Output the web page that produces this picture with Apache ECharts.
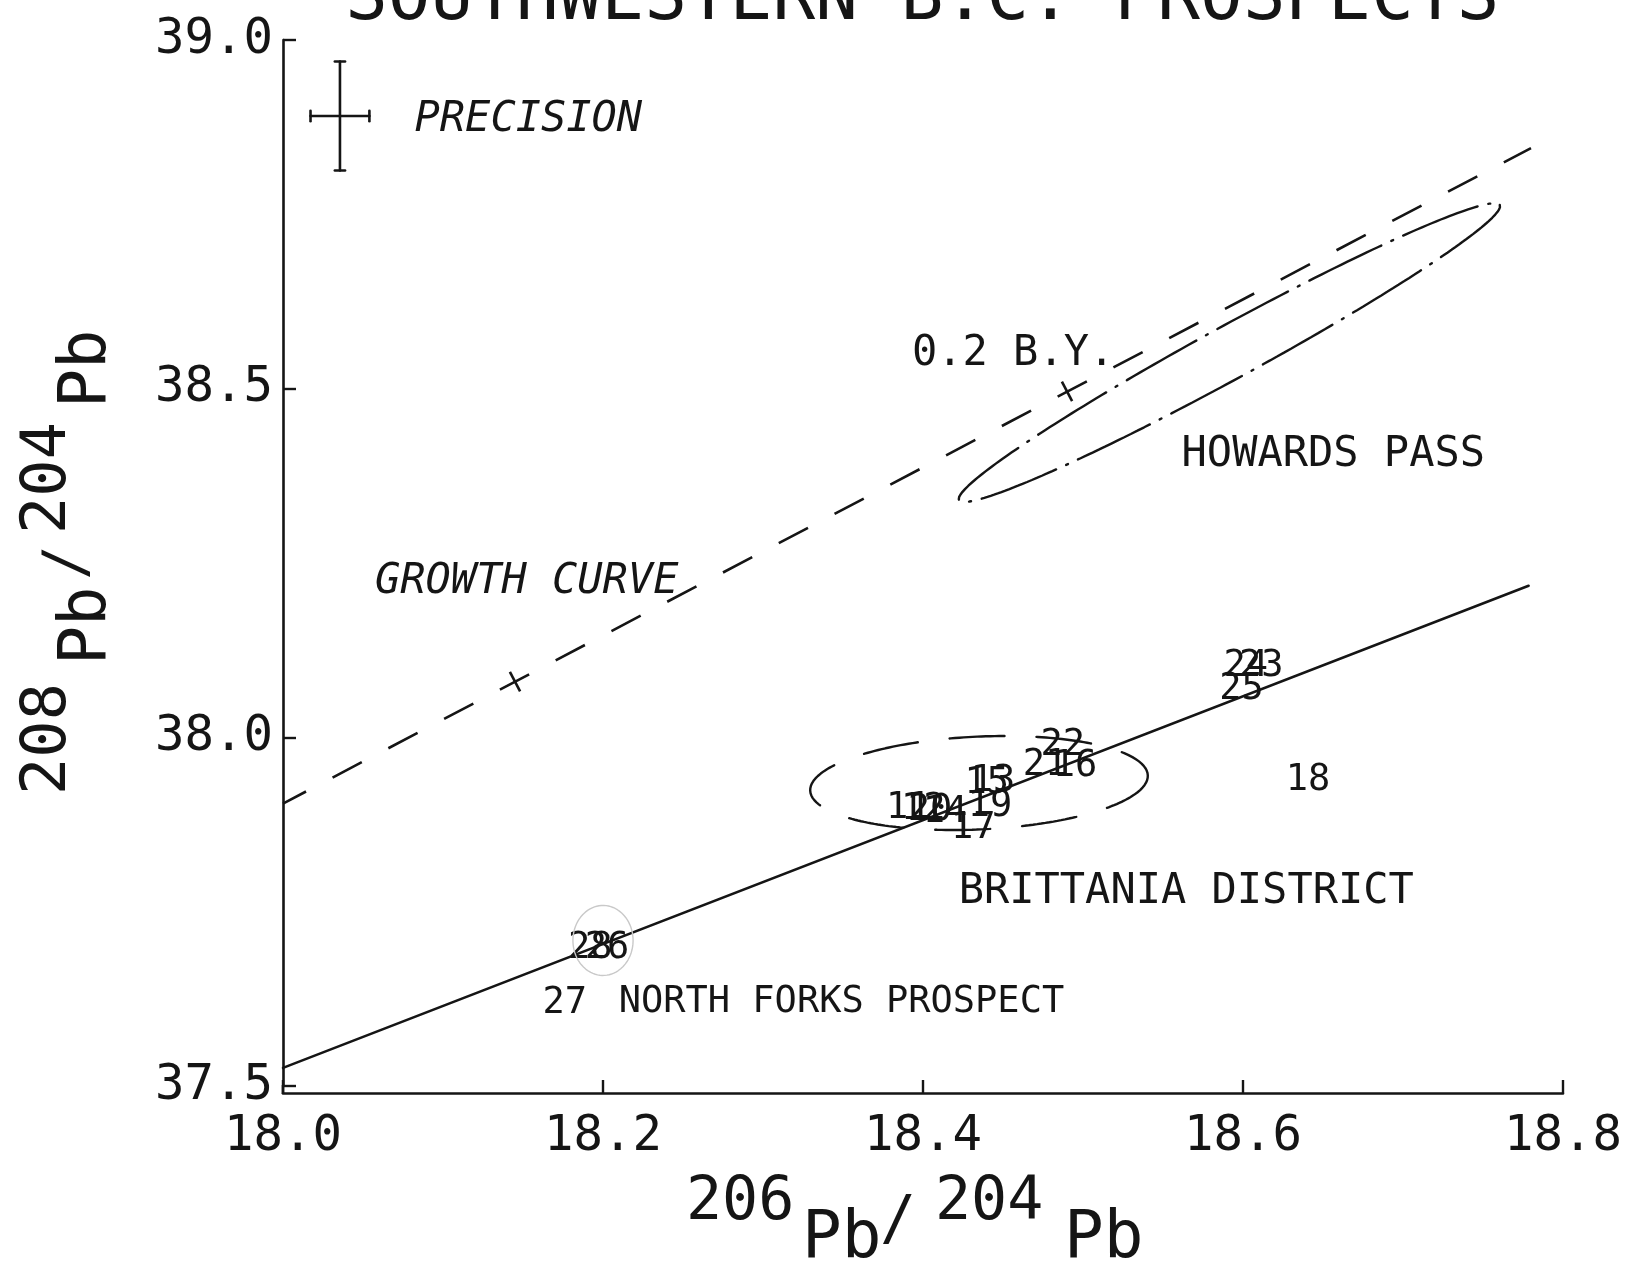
<!DOCTYPE html>
<html><head><meta charset="utf-8">
<script src="https://cdn.jsdelivr.net/npm/echarts@6/dist/echarts.min.js"></script>
<style>html,body{margin:0;padding:0;background:#fff}#c{width:1625px;height:1262px}</style>
</head><body><div id="c"></div>
<script>
// ---- data ----
const xTicks = [18.0, 18.2, 18.4, 18.6, 18.8];
const yTicks = [37.5, 38.0, 38.5, 39.0];
const solidLine = [[18.0, 37.526], [18.7785, 38.2174]];
const growthCurve = [[18.0, 37.905], [18.780, 38.845]];
const growthTicks = [[18.145, 38.080], [18.490, 38.496]];
const howardsCenter = [18.5915, 38.5517];
const howardsMajor = [0.1690, 0.2116];
const howardsMinor = [0.0078, -0.0335];
const brittaniaCenter = [18.435, 37.9345];
const brittaniaMajor = [0.1055, 0.0110];
const brittaniaMinor = [0.0012, -0.0665];
const forksCenter = [18.200, 37.7087];
const forksMajor = [0.0188, 0.0];
const forksMinor = [0.0, 0.0502];
const precisionCenter = [18.0356, 38.891];
const precisionError = [0.0184, 0.0782];
const sampleNames = ['18','25','24','23','22','21','16','15','13','19','17','11','12','20','14','28','26','27'];
const sampleX = [18.6406,18.5991,18.6017,18.6114,18.4873,18.4763,18.4950,18.4398,18.4438,18.4419,18.4314,18.3908,18.4002,18.4044,18.4138,18.1920,18.2025,18.1761];
const sampleY = [37.9422,38.0732,38.1057,38.1057,37.9933,37.9646,37.9623,37.9383,37.9412,37.9049,37.8737,37.9024,37.9010,37.9000,37.8963,37.7016,37.7016,37.6227];
const noteTexts = ['PRECISION','0.2 B.Y.','HOWARDS PASS','GROWTH CURVE','BRITTANIA DISTRICT','NORTH FORKS PROSPECT'];
const noteX = [18.0822, 18.3931, 18.5616, 18.0575, 18.4223, 18.2098];
const noteY = [38.891, 38.5548, 38.4106, 38.2277, 37.7831, 37.6256];
const noteItalic = [true, false, false, true, false, false];
const titleText = 'SOUTHWESTERN B.C. PROSPECTS';

// ---- build ----
const INK = '#151515';
const MONO = '"DejaVu Sans Mono", monospace';
function ellipse(c, u, v) {
  const pts = [];
  const n = 240;
  for (let i = 0; i <= n; i++) {
    const t = 2 * Math.PI * i / n;
    pts.push([c[0] + u[0] * Math.cos(t) + v[0] * Math.sin(t), c[1] + u[1] * Math.cos(t) + v[1] * Math.sin(t)]);
  }
  return pts;
}
function lineSeries(data, style) {
  return { type: 'line', data: data, symbol: 'none', silent: true, animation: false,
    lineStyle: Object.assign({ color: INK, width: 2.6, cap: 'round' }, style) };
}
const px = precisionCenter[0], py = precisionCenter[1];
const ex = precisionError[0], ey = precisionError[1];
const capX = 0.0032, capY = 0.0075;
const precisionSegs = [
  [[px - ex, py], [px + ex, py]],
  [[px, py - ey], [px, py + ey]],
  [[px - ex, py - capY], [px - ex, py + capY]],
  [[px + ex, py - capY], [px + ex, py + capY]],
  [[px - capX, py - ey], [px + capX, py - ey]],
  [[px - capX, py + ey], [px + capX, py + ey]]
];
const hidden = { color: 'rgba(0,0,0,0)', opacity: 1 };

const series = [
  lineSeries(solidLine, {}),
  lineSeries(growthCurve, { type: [33, 30], dashOffset: 7, cap: 'butt' }),
  lineSeries(ellipse(howardsCenter, howardsMajor, howardsMinor), { type: [80, 11, 2, 11], width: 2.4 }),
  lineSeries(ellipse(brittaniaCenter, brittaniaMajor, brittaniaMinor), { type: [55, 32], width: 2.4 }),
  lineSeries(ellipse(forksCenter, forksMajor, forksMinor), { color: '#c9c9c9', width: 1.4 }),
  { type: 'scatter', data: growthTicks, symbol: 'rect', symbolSize: [2.6, 22], symbolRotate: 27.7,
    itemStyle: { color: INK, opacity: 1 }, silent: true, animation: false },
  { type: 'scatter', silent: true, animation: false, symbolSize: 0.001, itemStyle: hidden,
    data: sampleNames.map((n, i) => ({ name: n, value: [sampleX[i], sampleY[i]] })),
    label: { show: true, position: [0, 0], offset: [0, 3], align: 'center', verticalAlign: 'middle', formatter: p => p.name,
      color: INK, opacity: 1, fontFamily: MONO, fontSize: 37 } },
  { type: 'scatter', silent: true, animation: false, symbolSize: 0.001, itemStyle: hidden,
    data: noteTexts.map((n, i) => ({ name: n, value: [noteX[i], noteY[i]],
      label: { fontStyle: noteItalic[i] ? 'italic' : 'normal', fontSize: i === 5 ? 37 : 42 } })),
    label: { show: true, position: [0, 0], offset: [0, 4], align: 'left', verticalAlign: 'middle', formatter: p => p.name,
      color: INK, opacity: 1, fontFamily: MONO, fontSize: 42 } }
].concat(precisionSegs.map(s => lineSeries(s, { width: 2.6 })));

function txt(x, y, s, fs, extra) {
  return { type: 'text', x: x, y: y, silent: true,
    style: Object.assign({ text: s, fill: INK, font: fs + 'px ' + MONO, align: 'left', verticalAlign: 'middle' }, extra || {}) };
}

const GRID = { left: 283, right: 62, top: 40, bottom: 176 };
const AX_DROP = 7;
const chart = echarts.init(document.getElementById('c'), null, { renderer: 'canvas' });
chart.setOption({
  backgroundColor: '#ffffff',
  animation: false,
  grid: Object.assign({ containLabel: false }, GRID),
  xAxis: { type: 'value', min: xTicks[0], max: xTicks[xTicks.length - 1], interval: 0.2, offset: AX_DROP,
    axisLine: { lineStyle: { color: INK, width: 2.6 } },
    axisTick: { inside: true, length: 13, lineStyle: { color: INK, width: 2.4 } },
    splitLine: { show: false },
    axisLabel: { margin: 20, color: INK, fontFamily: MONO, fontSize: 49, formatter: v => v.toFixed(1) } },
  yAxis: { type: 'value', min: yTicks[0], max: yTicks[yTicks.length - 1], interval: 0.5,
    axisLine: { show: true, lineStyle: { color: INK, width: 2.6 } },
    axisTick: { show: true, inside: true, length: 13, lineStyle: { color: INK, width: 2.4 } },
    splitLine: { show: false },
    axisLabel: { margin: 10, color: INK, fontFamily: MONO, fontSize: 49, formatter: v => v.toFixed(1) } },
  series: series,
  graphic: [
    // join y axis line down to the dropped x axis
    { type: 'line', silent: true, shape: { x1: GRID.left, y1: 1262 - GRID.bottom - 1, x2: GRID.left, y2: 1262 - GRID.bottom + AX_DROP + 1 },
      style: { stroke: INK, lineWidth: 2.6 } },
    txt(345, 1, titleText, 71),
    // x-axis name 206Pb/204Pb
    txt(686, 1203, '206', 60),
    txt(802, 1240, 'Pb', 66),
    txt(880, 1222, '/', 60),
    txt(935, 1203, '204', 60),
    txt(1064, 1240, 'Pb', 66),
    // y-axis name (rotated)
    { type: 'group', x: 0, y: 800, rotation: Math.PI / 2, silent: true, children: [
      txt(5, 49, '208', 62),
      txt(135, 88, 'Pb', 65),
      txt(220, 70, '/', 58),
      txt(266, 49, '204', 62),
      txt(392, 88, 'Pb', 65)
    ] }
  ]
});
</script></body></html>
